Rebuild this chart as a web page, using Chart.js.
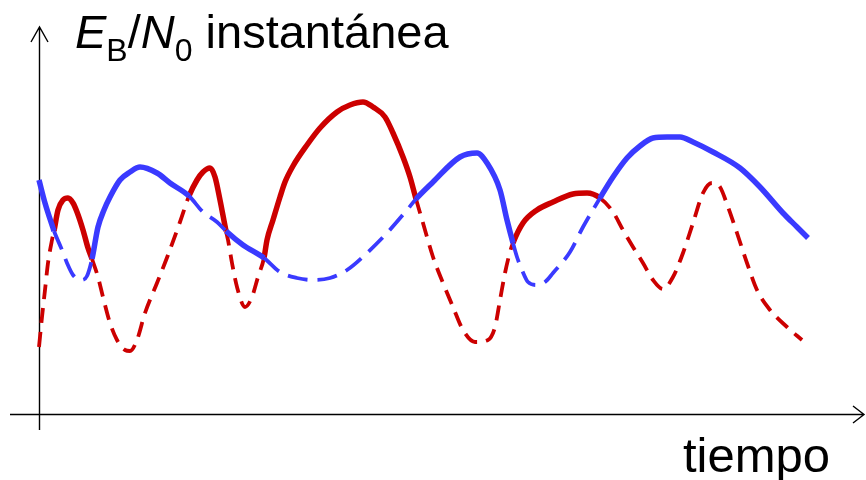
<!DOCTYPE html>
<html>
<head>
<meta charset="utf-8">
<script src="https://cdn.jsdelivr.net/npm/chart.js@4.4.0/dist/chart.umd.min.js"></script>
<style>
  html, body { margin: 0; padding: 0; background: #ffffff; }
  #wrap { position: relative; width: 866px; height: 480px; overflow: hidden; }
  canvas { position: absolute; left: 0; top: 0; }
  .txt { position: absolute; font-family: "Liberation Sans", Arial, Helvetica, sans-serif; color: #000; line-height: 1; white-space: nowrap; }
  #title { left: 75px; top: 8px; font-size: 47px; }
  #title i { font-style: italic; }
  #title .sub { font-size: 32px; position: relative; top: 13px; }
  #xlabel { left: 683px; top: 431px; font-size: 49px; }
</style>
</head>
<body>
<div id="wrap">
  <canvas id="c" width="866" height="480"></canvas>
  <div id="title" class="txt"><i>E</i><span class="sub">B</span>/<i>N</i><span class="sub">0</span> instantánea</div>
  <div id="xlabel" class="txt">tiempo</div>
</div>
<script>
// Time axis (arbitrary units) and instantaneous Eb/N0 level (arbitrary units)
const blueTime  = [0, 6, 14, 15, 23, 28, 34, 42, 48, 53, 59, 65, 71, 81, 91, 101, 118, 131, 150, 164, 178, 187, 204, 225, 241, 258, 274, 291, 308, 328, 348, 368, 377, 394, 421, 438, 448, 461, 468, 474, 478, 483, 489, 498, 506, 514, 531, 544, 561, 574, 588, 601, 614, 628, 641, 654, 674, 701, 721, 744, 758, 769];
const blueLevel = [234, 211, 186, 183, 164, 151, 139, 134, 138, 155, 187, 204, 217, 234, 242, 247, 241, 231, 218, 202, 192, 183, 169, 156, 142, 136, 134, 136, 144, 161, 181, 204, 215, 232, 257, 261, 251, 224, 194, 171, 157, 144, 132, 129, 132, 141, 162, 187, 216, 237, 256, 268, 276, 277, 277, 272, 262, 246, 227, 201, 187, 176];

const redTime  = [0, 3, 6, 9, 13, 15, 19, 24, 29, 34, 38, 44, 49, 53, 59, 64, 71, 78, 86, 91, 98, 106, 118, 129, 141, 150, 158, 164, 171, 176, 181, 187, 189, 193, 198, 206, 213, 219, 225, 228, 234, 241, 246, 254, 268, 281, 298, 311, 324, 334, 346, 354, 364, 371, 377, 384, 394, 404, 414, 424, 436, 449, 456, 461, 466, 471, 474, 484, 498, 514, 534, 548, 561, 574, 584, 594, 604, 614, 624, 634, 644, 654, 664, 673, 681, 689, 698, 708, 718, 731, 748, 763];
const redLevel = [67, 97, 124, 151, 174, 183, 204, 214, 216, 211, 202, 184, 166, 155, 137, 117, 91, 74, 64, 63, 74, 101, 131, 159, 192, 218, 234, 242, 246, 237, 214, 183, 174, 151, 127, 107, 117, 137, 156, 174, 194, 217, 232, 248, 269, 286, 302, 309, 312, 307, 297, 281, 257, 237, 215, 191, 157, 131, 107, 84, 72, 74, 87, 114, 141, 162, 171, 191, 204, 212, 220, 221, 216, 202, 184, 167, 151, 134, 125, 137, 161, 191, 221, 231, 227, 207, 181, 151, 124, 104, 87, 74];

const seriesNames = ['Rama 1', 'Rama 2'];
const seriesColors = ['#3a3aff', '#cc0000'];
const seriesDash = [[20, 10], [15, 9]];

function toPoints(ts, vs) { return ts.map((t, i) => ({ x: t, y: vs[i] })); }
function interp(ts, vs, t) {
  if (t <= ts[0]) return vs[0];
  if (t >= ts[ts.length - 1]) return vs[vs.length - 1];
  for (let i = 1; i < ts.length; i++) {
    if (ts[i] >= t) {
      const f = (t - ts[i - 1]) / (ts[i] - ts[i - 1]);
      return vs[i - 1] + f * (vs[i] - vs[i - 1]);
    }
  }
  return vs[vs.length - 1];
}
const allT = [blueTime, redTime];
const allV = [blueLevel, redLevel];

function isStrongest(ctx) {
  const d = ctx.datasetIndex;
  const o = 1 - d;
  const tm = (ctx.p0.parsed.x + ctx.p1.parsed.x) / 2;
  const own = (ctx.p0.parsed.y + ctx.p1.parsed.y) / 2;
  const other = interp(allT[o], allV[o], tm);
  return own >= other;
}

const axesPlugin = {
  id: 'arrowAxes',
  beforeDatasetsDraw(chart) {
    const { ctx, scales: { x, y } } = chart;
    const x0 = Math.round(x.getPixelForValue(0)) + 0.5;
    const y0 = Math.round(y.getPixelForValue(0)) + 0.5;
    const yTop = y.getPixelForValue(387);
    const yBot = y.getPixelForValue(-16);
    const xL = x.getPixelForValue(-29);
    const xR = x.getPixelForValue(825);
    ctx.save();
    ctx.strokeStyle = '#000';
    ctx.lineWidth = 1.4;
    ctx.beginPath();
    ctx.moveTo(x0, yBot); ctx.lineTo(x0, yTop);
    ctx.moveTo(x0 - 8.5, yTop + 15); ctx.lineTo(x0, yTop); ctx.lineTo(x0 + 8.5, yTop + 15);
    ctx.moveTo(xL, y0); ctx.lineTo(xR, y0);
    ctx.moveTo(xR - 11, y0 - 8.5); ctx.lineTo(xR, y0); ctx.lineTo(xR - 11, y0 + 8.5);
    ctx.stroke();
    ctx.restore();
  }
};

const datasets = [0, 1].map(i => ({
  label: seriesNames[i],
  data: toPoints(allT[i], allV[i]),
  borderColor: seriesColors[i],
  borderWidth: 5.5,
  pointRadius: 0,
  fill: false,
  cubicInterpolationMode: 'monotone',
  borderCapStyle: 'butt',
  borderJoinStyle: 'round',
  segment: {
    borderDash: ctx => isStrongest(ctx) ? [] : seriesDash[ctx.datasetIndex],
    borderWidth: ctx => isStrongest(ctx) ? 5.5 : 3.8
  }
}));

new Chart(document.getElementById('c'), {
  type: 'line',
  data: { datasets },
  options: {
    responsive: false,
    animation: false,
    layout: { padding: 0 },
    plugins: { legend: { display: false }, tooltip: { enabled: false }, title: { display: false } },
    scales: {
      x: { type: 'linear', min: -39, max: 827, display: false },
      y: { type: 'linear', min: -66, max: 414, display: false }
    }
  },
  plugins: [axesPlugin]
});
</script>
</body>
</html>
